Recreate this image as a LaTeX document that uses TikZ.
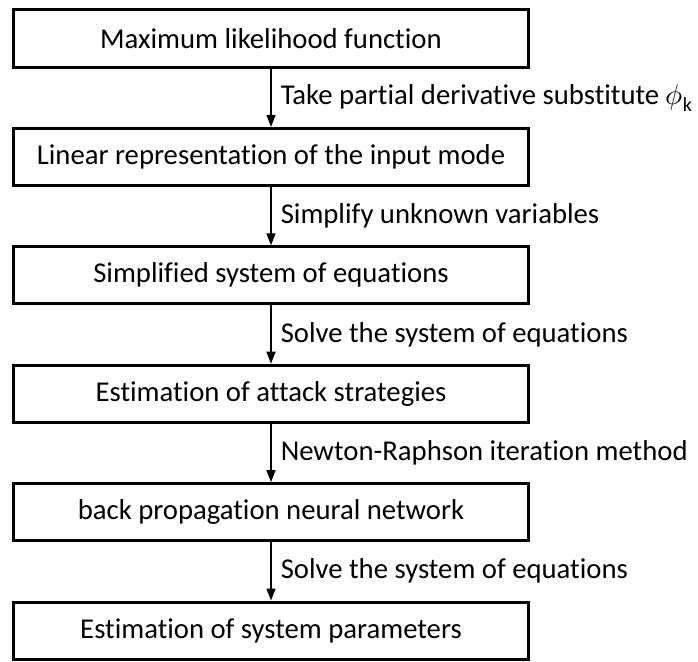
\documentclass[tikz,border=0pt]{standalone}
\usepackage{fontspec}
\usepackage{unicode-math}
\setmainfont{Carlito}[Ligatures=NoCommon]
\setmathfont{Latin Modern Math}
\usetikzlibrary{arrows.meta}

\begin{document}
\begin{tikzpicture}[x=1pt,y=1pt,->,>={Triangle[length=12pt,width=9pt]},line width=1.5pt,auto,node distance=118.4pt,
		stepbox/.style={draw,line width=3pt,minimum width=515pt,minimum height=57pt,inner sep=0pt,font=\fontsize{28.7}{34}\selectfont},
		steplabel/.style={font=\fontsize{28.7}{34}\selectfont,inner sep=9pt}]
		\useasboundingbox (0,0) rectangle (698,-661);
		\node[stepbox]         (MLF)                    at (271,-38.5) {Maximum likelihood function};
		\node[stepbox]         (LIN)    [below of=MLF]  {Linear representation of the input mode};
		\node[stepbox]         (SSE)    [below of=LIN]  {Simplified system of equations};
		\node[stepbox]         (EAS)    [below of=SSE]  {Estimation of attack strategies};
		\node[stepbox]         (BPN)    [below of=EAS]  {back propagation neural network};
		\node[stepbox]         (ESP)    [below of=BPN]  {Estimation of system parameters};
		\path (MLF)  edge  node[steplabel] {Take partial derivative substitute $\phi_{\mathrm{k}}$} (LIN)
		      (LIN)  edge  node[steplabel] {Simplify unknown variables} (SSE)
		      (SSE)  edge  node[steplabel] {Solve the system of equations} (EAS)
		      (EAS)  edge  node[steplabel] {Newton-Raphson iteration method} (BPN)
		      (BPN)  edge  node[steplabel] {Solve the system of equations} (ESP);
		\end{tikzpicture}
\end{document}
